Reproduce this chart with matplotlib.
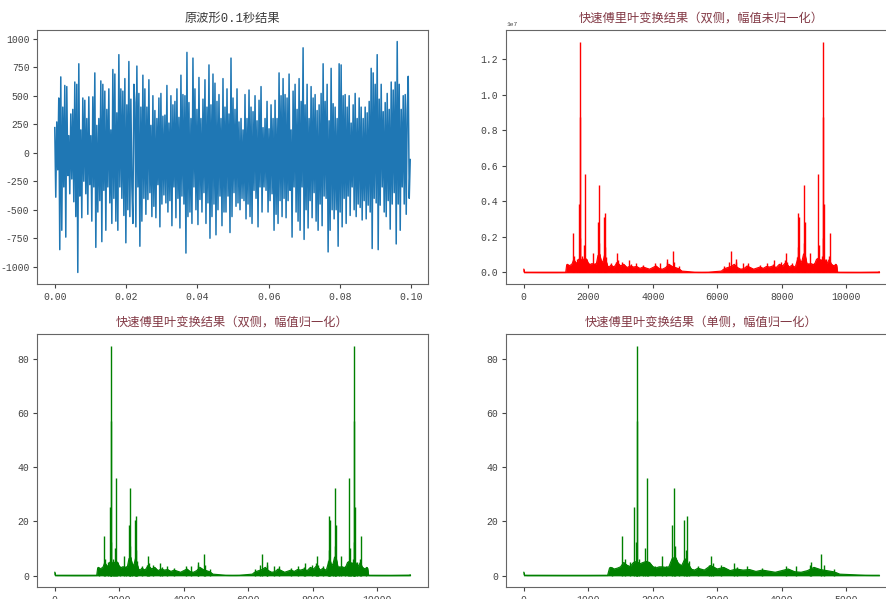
import numpy as np
import matplotlib
matplotlib.use('Agg')
import matplotlib.pyplot as plt

plt.rcParams['font.family'] = ['Liberation Mono', 'Noto Sans CJK SC', 'DejaVu Sans']
plt.rcParams['axes.unicode_minus'] = False

# waveform samples for the first 0.1 s (~1 sample per pixel)
wave = [
    220, -390, 270, -150, 480, -850, 665, -680, 400, -300,
    590, -740, 580, -200, 150, -360, 340, -230, 380, -430,
    620, -560, 600, -1050, 780, -380, 200, -570, 480, -250,
    460, -360, 300, -540, 490, -280, 150, -600, 490, -300,
    700, -830, 240, -520, 300, -420, 630, -780, 600, -330,
    540, -680, 380, -300, 560, -440, 200, -620, 730, -400,
    690, -600, 350, -680, 860, -300, 560, -400, 540, -550,
    650, -790, 420, -500, 800, -560, 470, -300, -620, 600,
    440, -650, 760, -300, 520, -820, 400, -600, 680, -400,
    560, -540, 400, -410, 640, -350, 240, -560, 500, -470,
    370, -570, 300, -280, 480, -650, 520, -450, 320, -370,
    330, -440, 590, -520, 260, -420, 500, -640, 420, -300,
    450, -570, 560, -400, 310, -660, 680, -380, 510, -450,
    500, -880, 880, -560, 440, -520, 300, -620, 830, -300,
    560, -500, 380, -630, 660, -410, 300, -520, 470, -350,
    640, -620, 400, -440, 770, -750, 420, -560, 690, -450,
    610, -720, 450, -500, 510, -380, 300, -640, 650, -520,
    400, -520, 560, -380, 340, -700, 830, -560, 480, -350,
    380, -470, 560, -440, 270, -500, 300, -400, 200, -420,
    510, -580, 300, -450, 550, -560, 400, -620, 360, -330,
    500, -400, 280, -650, 460, -300, 580, -520, 220, -300,
    300, -330, 450, -520, 210, -420, 420, -360, 300, -680,
    460, -540, 300, -620, 700, -420, 500, -560, 650, -400,
    510, -570, 480, -420, 690, -330, 200, -740, 540, -300,
    600, -520, 380, -600, 650, -680, 450, -300, 920, -760,
    420, -500, 600, -660, 300, -420, 580, -570, 480, -350,
    510, -600, 370, -680, 420, -450, 520, -640, 780, -380,
    450, -400, 600, -870, 280, -680, 740, -500, 430, -580,
    400, -500, 300, -820, 780, -520, 770, -650, 500, -400,
    510, -620, 400, -380, 500, -550, 260, -300, 420, -500,
    520, -560, 300, -450, 480, -480, 400, -590, 300, -420,
    400, -580, 350, -460, 450, -520, 740, -840, 700, -400,
    600, -440, 860, -850, 470, -460, 600, -300, 360, -520,
    440, -560, 520, -420, 380, -670, 620, -450, 550, -350,
    620, -800, 975, -450, 600, -680, 380, -300, 500, -450,
    510, -540, 380, 670, -400, -60,
]
duration = 0.1

# FFT size (bins on the x axis)
N = 11025

# one-sided normalized spectrum: envelope of the dense noise band
env_bins = [0, 5, 10, 50, 200, 600, 1000, 1300, 1330, 1350, 1400, 1450, 1500, 1550,
            1600, 1650, 1700, 1750, 1800, 1850, 1900, 1950, 2000, 2050, 2100, 2150,
            2200, 2250, 2300, 2350, 2400, 2450, 2500, 2550, 2600, 2650, 2700, 2800,
            2900, 3000, 3100, 3200, 3300, 3400, 3500, 3600, 3700, 3800, 3900, 4000,
            4100, 4200, 4300, 4400, 4500, 4600, 4700, 4800, 4850, 4900, 5000, 5100,
            5200, 5300, 5400, 5512]
env_vals = [1.2, 0.3, 0.15, 0.1, 0.1, 0.08, 0.08, 0.1, 2.8, 3.0, 2.4, 2.7, 3.2, 4.8,
            3.8, 3.3, 4.8, 5.2, 4.3, 4.8, 5.2, 4.8, 3.3, 2.8, 3.2, 3.2,
            3.0, 3.2, 6.2, 6.8, 4.2, 3.7, 6.2, 4.2, 2.3, 2.0, 2.7, 2.0,
            3.7, 2.4, 3.0, 1.8, 2.4, 2.0, 2.2, 1.5, 2.0, 1.6, 1.2, 1.8,
            2.4, 1.4, 1.2, 1.8, 3.0, 2.2, 1.8, 1.4, 1.0, 0.5, 0.4, 0.3,
            0.2, 0.12, 0.1, 0.1]

# one-sided normalized spectrum: individual spikes
peak_bins = [1371, 1526, 1562, 1640, 1716, 1742, 1752, 1758, 1790, 1845, 1881, 1912,
             1930, 2030, 2144, 2210, 2299, 2330, 2345, 2400, 2490, 2515, 2531, 2560,
             2696, 2870, 2897, 2930, 3057, 3263, 3310, 3469, 3700, 4062, 4227, 4440,
             4454, 4613, 4655, 4809]
peak_vals = [3.2, 14.5, 6.0, 5.0, 25.2, 12.5, 57.0, 84.8, 6.0, 4.5, 10.0, 36.0,
             5.0, 3.5, 7.2, 3.5, 18.5, 32.2, 11.0, 4.5, 20.5, 9.5, 22.0, 5.5,
             3.5, 4.0, 7.3, 4.5, 4.0, 4.5, 3.0, 3.5, 2.8, 3.5, 3.5, 4.0,
             4.8, 8.0, 4.0, 2.5]

# ratio between raw and normalized amplitude (1.3e7 / 84.8)
raw_scale = 1.533e5

titles = ['原波形0.1秒结果',
          '快速傅里叶变换结果（双侧，幅值未归一化）',
          '快速傅里叶变换结果（双侧，幅值归一化）',
          '快速傅里叶变换结果（单侧，幅值归一化）']

env_bins = np.array(env_bins)
env_vals = np.array(env_vals)
peak_bins = np.array(peak_bins)
peak_vals = np.array(peak_vals)

# two-sided spectrum is the mirror image around N/2
two_bins = np.concatenate([env_bins, N - env_bins[:0:-1]])
two_vals = np.concatenate([env_vals, env_vals[:0:-1]])
two_pk_bins = np.concatenate([peak_bins, N - peak_bins])
two_pk_vals = np.concatenate([peak_vals, peak_vals])

fig = plt.figure(figsize=(8.86, 5.99), dpi=100)
W, H = 886.0, 599.0
ax1 = fig.add_axes([37 / W, 1 - 284 / H, 391 / W, 254 / H])
ax2 = fig.add_axes([506 / W, 1 - 284 / H, 391 / W, 254 / H])
ax3 = fig.add_axes([37 / W, 1 - 587 / H, 391 / W, 253 / H])
ax4 = fig.add_axes([506 / W, 1 - 587 / H, 391 / W, 253 / H])

t = np.arange(len(wave)) * duration / len(wave)
ax1.plot(t, wave, color='#1f77b4', lw=1.1)


def spectrum(ax, bins, vals, pbins, pvals, color, scale=1.0):
    ax.fill_between(bins, 0, vals * scale, color=color, lw=0.5)
    ax.plot(bins, vals * scale, color=color, lw=0.8)
    ax.vlines(pbins, 0, pvals * scale, color=color, lw=1.0)


spectrum(ax2, two_bins, two_vals, two_pk_bins, two_pk_vals, 'red', raw_scale)
spectrum(ax3, two_bins, two_vals, two_pk_bins, two_pk_vals, 'green')
spectrum(ax4, env_bins, env_vals, peak_bins, peak_vals, 'green')

title_colors = ['#3a3a3a', '#833a46', '#833a46', '#833a46']
for ax, title, tc in zip([ax1, ax2, ax3, ax4], titles, title_colors):
    ax.set_title(title, fontsize=8.8, color=tc,
                 family=['Liberation Mono', 'Noto Sans CJK SC'])
    ax.tick_params(labelsize=7, colors='#444444', length=3, pad=2.5)
    for s in ax.spines.values():
        s.set_color('#666666')
    ax.yaxis.get_offset_text().set_fontsize(4.5)

fig.savefig('out.png', dpi=100)
